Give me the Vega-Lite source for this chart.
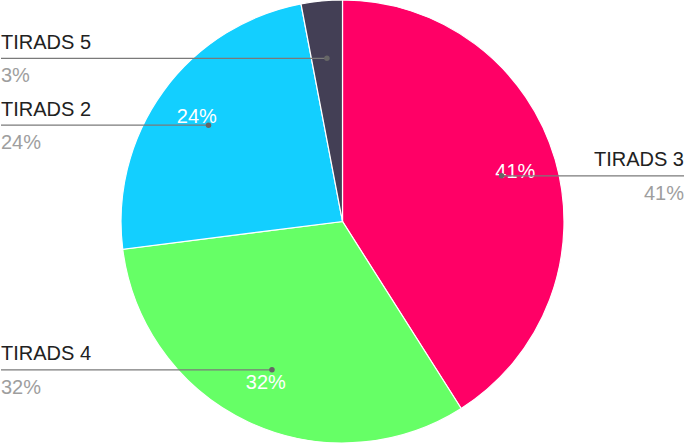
{
  "$schema": "https://vega.github.io/schema/vega-lite/v6.json",
  "width": 685,
  "height": 443,
  "padding": 0,
  "autosize": {"type": "fit", "contains": "padding"},
  "background": "white",
  "config": {"view": {"stroke": null}, "font": "Liberation Sans"},
  "data": {
    "values": [
      {"label": "TIRADS 3", "value": 41},
      {"label": "TIRADS 4", "value": 32},
      {"label": "TIRADS 2", "value": 24},
      {"label": "TIRADS 5", "value": 3}
    ]
  },
  "transform": [
    {"window": [{"op": "sum", "field": "value", "as": "cum"}], "frame": [null, 0]},
    {"calculate": "(datum.cum - datum.value/2)/100*2*PI", "as": "mid"},
    {"calculate": "0.75*sin(datum.mid)", "as": "px"},
    {"calculate": "0.75*cos(datum.mid)", "as": "py"},
    {"calculate": "0.815*sin(datum.mid)", "as": "lx"},
    {"calculate": "0.815*cos(datum.mid)", "as": "ly"},
    {"calculate": "datum.px < 0 ? -1.5463 : 1.5463", "as": "edge"},
    {"calculate": "datum.value + '%'", "as": "pct"}
  ],
  "layer": [
    {
      "mark": {"type": "arc", "stroke": "white", "strokeWidth": 1.2, "outerRadius": 221.5},
      "encoding": {
        "theta": {"field": "value", "type": "quantitative", "stack": true},
        "order": {"field": "cum", "type": "quantitative"},
        "color": {
          "field": "label",
          "type": "nominal",
          "scale": {
            "domain": ["TIRADS 3", "TIRADS 4", "TIRADS 2", "TIRADS 5"],
            "range": ["#FF0066", "#66FF66", "#13CFFF", "#433F55"]
          },
          "legend": null
        }
      }
    },
    {
      "transform": [{"filter": "datum.value > 5"}],
      "mark": {"type": "text", "color": "white", "fontSize": 20, "align": "center", "baseline": "middle"},
      "encoding": {
        "x": {"field": "lx", "type": "quantitative", "scale": {"domain": [-1.5463, 1.5463], "nice": false, "zero": false}, "axis": null},
        "y": {"field": "ly", "type": "quantitative", "scale": {"domain": [-1, 1], "nice": false, "zero": false}, "axis": null},
        "text": {"field": "pct"}
      }
    },
    {
      "mark": {"type": "rule", "color": "#7a7a7a", "strokeWidth": 1.2},
      "encoding": {
        "x": {"field": "px", "type": "quantitative", "axis": null},
        "x2": {"field": "edge"},
        "y": {"field": "py", "type": "quantitative", "axis": null}
      }
    },
    {
      "mark": {"type": "circle", "color": "#666666", "opacity": 1, "size": 30},
      "encoding": {
        "x": {"field": "px", "type": "quantitative", "axis": null},
        "y": {"field": "py", "type": "quantitative", "axis": null}
      }
    },
    {
      "transform": [{"filter": "datum.px < 0"}],
      "mark": {"type": "text", "color": "#212121", "fontSize": 20, "align": "left", "baseline": "alphabetic", "dy": -9.5},
      "encoding": {
        "x": {"field": "edge", "type": "quantitative", "axis": null},
        "y": {"field": "py", "type": "quantitative", "axis": null},
        "text": {"field": "label"}
      }
    },
    {
      "transform": [{"filter": "datum.px >= 0"}],
      "mark": {"type": "text", "color": "#212121", "fontSize": 20, "align": "right", "baseline": "alphabetic", "dy": -9.5},
      "encoding": {
        "x": {"field": "edge", "type": "quantitative", "axis": null},
        "y": {"field": "py", "type": "quantitative", "axis": null},
        "text": {"field": "label"}
      }
    },
    {
      "transform": [{"filter": "datum.px < 0"}],
      "mark": {"type": "text", "color": "#9E9E9E", "fontSize": 20, "align": "left", "baseline": "alphabetic", "dy": 24},
      "encoding": {
        "x": {"field": "edge", "type": "quantitative", "axis": null},
        "y": {"field": "py", "type": "quantitative", "axis": null},
        "text": {"field": "pct"}
      }
    },
    {
      "transform": [{"filter": "datum.px >= 0"}],
      "mark": {"type": "text", "color": "#9E9E9E", "fontSize": 20, "align": "right", "baseline": "alphabetic", "dy": 24},
      "encoding": {
        "x": {"field": "edge", "type": "quantitative", "axis": null},
        "y": {"field": "py", "type": "quantitative", "axis": null},
        "text": {"field": "pct"}
      }
    }
  ]
}
